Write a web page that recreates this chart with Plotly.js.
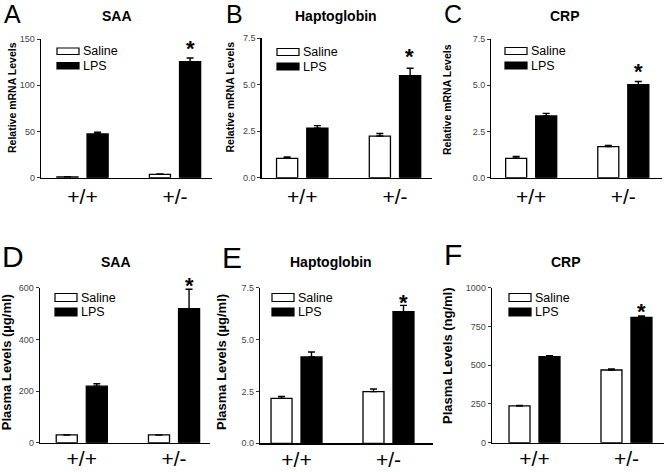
<!DOCTYPE html>
<html>
<head>
<meta charset="utf-8">
<script src="https://cdn.plot.ly/plotly-3.0.1.min.js"></script>
<style>html,body{margin:0;padding:0;background:#fff;}#chart{width:664px;height:472px;}</style>
</head>
<body>
<div id="chart"></div>
<script>
// ---- data ----
const genotypes = ['+/+', '+/-'];
const seriesNames = ['Saline', 'LPS'];

// A: SAA mRNA
const saaMrnaSaline = [1.0, 3.6];
const saaMrnaSalineErr = [0.2, 0.4];
const saaMrnaLps = [47.3, 125.5];
const saaMrnaLpsErr = [1.8, 4.0];
// B: Haptoglobin mRNA
const hpMrnaSaline = [1.04, 2.24];
const hpMrnaSalineErr = [0.07, 0.14];
const hpMrnaLps = [2.66, 5.49];
const hpMrnaLpsErr = [0.14, 0.40];
// C: CRP mRNA
const crpMrnaSaline = [1.05, 1.68];
const crpMrnaSalineErr = [0.10, 0.06];
const crpMrnaLps = [3.34, 5.03];
const crpMrnaLpsErr = [0.14, 0.17];
// D: SAA plasma (ug/ml)
const saaPlasmaSaline = [30, 30];
const saaPlasmaSalineErr = [0, 0];
const saaPlasmaLps = [219, 519];
const saaPlasmaLpsErr = [9, 75];
// E: Haptoglobin plasma (ug/ml)
const hpPlasmaSaline = [2.17, 2.49];
const hpPlasmaSalineErr = [0.09, 0.13];
const hpPlasmaLps = [4.16, 6.34];
const hpPlasmaLpsErr = [0.24, 0.31];
// F: CRP plasma (ng/ml)
const crpPlasmaSaline = [237, 469];
const crpPlasmaSalineErr = [4, 7];
const crpPlasmaLps = [555, 809];
const crpPlasmaLpsErr = [6, 8];

const ticksMrnaSaa = [0, 50, 100, 150];
const ticksSmall = [0, 2.5, 5.0, 7.5];
const ticksPlasmaSaa = [0, 200, 400, 600];
const ticksPlasmaCrp = [0, 250, 500, 750, 1000];

const panelLetters = ['A', 'B', 'C', 'D', 'E', 'F'];
const panelTitles = ['SAA', 'Haptoglobin', 'CRP', 'SAA', 'Haptoglobin', 'CRP'];
const yTitles = ['Relative mRNA Levels', 'Relative mRNA Levels', 'Relative mRNA Levels',
                 'Plasma Levels (\u00b5g/ml)', 'Plasma Levels (\u00b5g/ml)', 'Plasma Levels (ng/ml)'];
const significance = '*';

// ---- layout helpers ----
const W = 664, H = 472;
const FONT = 'Liberation Sans, Arial, Helvetica, sans-serif';
const px = x => x / W;
const py = y => 1 - y / H;

const panels = [
  {s: saaMrnaSaline, se: saaMrnaSalineErr, l: saaMrnaLps, le: saaMrnaLpsErr, ticks: ticksMrnaSaa, fmt: 'd',
   box: [41, 212, 39, 177.7], xr: [-0.449, 1.4], letter: [12, 14, 25], tpos: [117, 16], ytpos: [11.5, 97.5],
   leg: [57, 48, 6.5], star: 9, stand: 0},
  {s: hpMrnaSaline, se: hpMrnaSalineErr, l: hpMrnaLps, le: hpMrnaLpsErr, ticks: ticksSmall, fmt: '.1f',
   box: [261.7, 432, 38.3, 177.7], xr: [-0.437, 1.399], letter: [234, 14, 25], tpos: [336, 16], ytpos: [229, 97.5],
   leg: [277, 48.5, 7], star: 12, stand: 0},
  {s: crpMrnaSaline, se: crpMrnaSalineErr, l: crpMrnaLps, le: crpMrnaLpsErr, ticks: ticksSmall, fmt: '.1f',
   box: [491.3, 662, 39, 177.7], xr: [-0.433, 1.42], letter: [453, 14, 25], tpos: [565, 16], ytpos: [447, 100],
   leg: [505, 47.5, 7], star: 10, stand: 0},
  {s: saaPlasmaSaline, se: saaPlasmaSalineErr, l: saaPlasmaLps, le: saaPlasmaLpsErr, ticks: ticksPlasmaSaa, fmt: 'd',
   box: [40, 210, 287.7, 442.7], xr: [-0.453, 1.39], letter: [13, 256, 30], tpos: [116, 262], ytpos: [6.5, 362.7],
   leg: [55, 293.5, 8], star: 4, stand: -3},
  {s: hpPlasmaSaline, se: hpPlasmaSalineErr, l: hpPlasmaLps, le: hpPlasmaLpsErr, ticks: ticksSmall, fmt: '.1f',
   box: [260, 433, 287.7, 443.3], xr: [-0.397, 1.484], letter: [232, 257, 30], tpos: [331, 262], ytpos: [221, 362],
   leg: [272, 293.5, 8], star: 3, stand: -3},
  {s: crpPlasmaSaline, se: crpPlasmaSalineErr, l: crpPlasmaLps, le: crpPlasmaLpsErr, ticks: ticksPlasmaCrp, fmt: 'd',
   box: [492, 664, 287.7, 442.7], xr: [-0.462, 1.408], letter: [453, 254, 30], tpos: [566, 262], ytpos: [447, 356],
   leg: [509, 293.5, 8], star: 5, stand: -3}
];

const data = [];
const layout = {
  width: W, height: H,
  margin: {l: 0, r: 0, t: 0, b: 0, pad: 0},
  paper_bgcolor: '#fff', plot_bgcolor: '#fff',
  showlegend: false,
  barmode: 'group', bargap: 0.348, bargroupgap: 0.3,
  font: {family: FONT, color: '#000'},
  annotations: [], shapes: []
};

panels.forEach((p, i) => {
  const n = i + 1;
  const xa = 'x' + (n === 1 ? '' : n), ya = 'y' + (n === 1 ? '' : n);
  const xk = 'xaxis' + (n === 1 ? '' : n), yk = 'yaxis' + (n === 1 ? '' : n);
  const ymax = p.ticks[p.ticks.length - 1];
  data.push({
    type: 'bar', name: seriesNames[0], x: genotypes, y: p.s, xaxis: xa, yaxis: ya,
    marker: {color: '#fff', line: {color: '#000', width: 1.3}},
    error_y: {type: 'data', array: p.se, arrayminus: p.se.map(() => 0), symmetric: false,
              color: '#000', thickness: 1.4, width: 3.5},
    hoverinfo: 'skip'
  });
  data.push({
    type: 'bar', name: seriesNames[1], x: genotypes, y: p.l, xaxis: xa, yaxis: ya,
    marker: {color: '#000', line: {color: '#000', width: 1.3}},
    error_y: {type: 'data', array: p.le, arrayminus: p.le.map(() => 0), symmetric: false,
              color: '#000', thickness: 1.4, width: 3.5},
    hoverinfo: 'skip'
  });
  layout[xk] = {
    domain: [px(p.box[0]), px(p.box[1])], anchor: ya, type: 'category',
    range: p.xr, showline: true, linecolor: '#000', linewidth: 1.3,
    ticks: '', showgrid: false, zeroline: false, fixedrange: true,
    tickfont: {family: FONT, size: 21, color: '#000'}, ticklabelstandoff: p.stand
  };
  layout[yk] = {
    domain: [py(p.box[3]), py(p.box[2])], anchor: xa,
    range: [0, ymax], showline: true, linecolor: '#000', linewidth: 1.3,
    ticks: 'outside', ticklen: 3, tickwidth: 1, tickcolor: '#333',
    tickvals: p.ticks, tickformat: p.fmt, showgrid: false, zeroline: false, fixedrange: true,
    tickfont: {family: FONT, size: 9, color: '#444'}
  };
  // panel letter
  layout.annotations.push({xref: 'paper', yref: 'paper', x: px(p.letter[0]), y: py(p.letter[1]),
    text: panelLetters[i], showarrow: false, xanchor: 'center', yanchor: 'middle',
    font: {family: FONT, size: p.letter[2], color: '#000'}});
  // title
  layout.annotations.push({xref: 'paper', yref: 'paper', x: px(p.tpos[0]), y: py(p.tpos[1]),
    text: panelTitles[i], showarrow: false, xanchor: 'center', yanchor: 'middle',
    font: {family: FONT, size: 14, color: '#000', weight: 'bold'}});
  // y title
  layout.annotations.push({xref: 'paper', yref: 'paper', x: px(p.ytpos[0]), y: py(p.ytpos[1]),
    text: yTitles[i], showarrow: false, xanchor: 'center', yanchor: 'middle', textangle: -90,
    font: {family: FONT, size: i < 3 ? 10.5 : 13, color: '#000', weight: 'bold'}});
  // significance star above LPS +/- bar
  layout.annotations.push({xref: xa, yref: ya, x: genotypes[1], y: p.l[1] + p.le[1],
    xshift: 15, yshift: p.star, text: significance, showarrow: false,
    xanchor: 'center', yanchor: 'middle',
    font: {family: FONT, size: 22, color: '#000', weight: 'bold'}});
  // legend
  const [lx, ly, lh] = p.leg;
  const bw = 22, step = 14.5;
  seriesNames.forEach((nm, k) => {
    const y0 = ly + k * step;
    layout.shapes.push({type: 'rect', xref: 'paper', yref: 'paper',
      x0: px(lx), x1: px(lx + bw), y0: py(y0 + lh), y1: py(y0),
      fillcolor: k === 0 ? '#fff' : '#000', line: {color: '#000', width: 1.2}});
    layout.annotations.push({xref: 'paper', yref: 'paper', x: px(lx + bw + 2), y: py(y0 + lh / 2),
      text: nm, showarrow: false, xanchor: 'left', yanchor: 'middle',
      font: {family: FONT, size: 12.5, color: '#000'}});
  });
});

Plotly.newPlot('chart', data, layout, {staticPlot: true, displayModeBar: false});
</script>
</body>
</html>
